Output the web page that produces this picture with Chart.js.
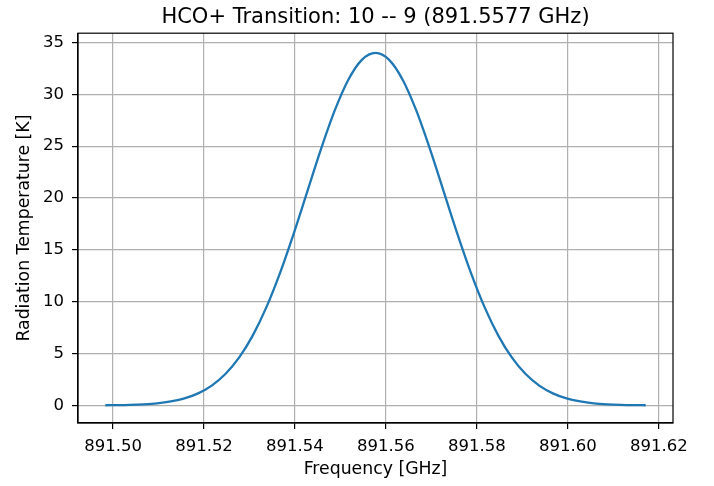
<!DOCTYPE html>
<html>
<head>
<meta charset="utf-8">
<script src="https://cdn.jsdelivr.net/npm/chart.js@4"></script>
<style>
  html, body { margin: 0; padding: 0; background: #fff; }
  #wrap { width: 714px; height: 486px; }
</style>
</head>
<body>
<div id="wrap"><canvas id="c" width="714" height="486"></canvas></div>
<script>
const frequency = [891.4983, 891.5007, 891.5037, 891.5067, 891.5097, 891.5127, 891.5157, 891.5187, 891.5217, 891.5247,
  891.5277, 891.5307, 891.5337, 891.5367, 891.5397, 891.5427, 891.5457, 891.5487, 891.5517, 891.5547,
  891.5577, 891.5607, 891.5637, 891.5667, 891.5697, 891.5727, 891.5757, 891.5787, 891.5817, 891.5847,
  891.5877, 891.5907, 891.5937, 891.5967, 891.5997, 891.6027, 891.6057, 891.6087, 891.6117, 891.6147, 891.6171];
const temperature = [0.013, 0.025, 0.052, 0.105, 0.20, 0.38, 0.67, 1.16, 1.91, 3.02,
  4.60, 6.73, 9.45, 12.76, 16.55, 20.62, 24.69, 28.40, 31.39, 33.33,
  34.00, 33.33, 31.39, 28.40, 24.69, 20.62, 16.55, 12.76, 9.45, 6.73,
  4.60, 3.02, 1.91, 1.16, 0.67, 0.38, 0.20, 0.105, 0.052, 0.025, 0.013];
const xTicks = [891.50, 891.52, 891.54, 891.56, 891.58, 891.60, 891.62];
const yTicks = [0, 5, 10, 15, 20, 25, 30, 35];
const titleText = 'HCO+ Transition: 10 -- 9 (891.5577 GHz)';
const xLabel = 'Frequency [GHz]';
const yLabel = 'Radiation Temperature [K]';

const FONT = 'DejaVu Sans';
const frame = {
  id: 'frame',
  afterDatasetsDraw(chart) {
    const a = chart.chartArea, ctx = chart.ctx;
    ctx.save();
    ctx.strokeStyle = '#000';
    ctx.lineWidth = 1.2;
    ctx.strokeRect(a.left, a.top, a.right - a.left, a.bottom - a.top);
    ctx.restore();
  }
};

new Chart(document.getElementById('c'), {
  type: 'line',
  data: {
    datasets: [{
      data: frequency.map((f, i) => ({x: f, y: temperature[i]})),
      borderColor: '#1f77b4',
      borderWidth: 2.3,
      pointRadius: 0,
      fill: false,
      cubicInterpolationMode: 'monotone'
    }]
  },
  options: {
    responsive: false,
    animation: false,
    layout: { padding: { left: 0, right: 41, top: 0, bottom: 0 } },
    plugins: {
      legend: { display: false },
      tooltip: { enabled: false },
      title: {
        display: true,
        text: titleText,
        fullSize: false,
        color: '#000',
        font: { family: FONT, size: 21, weight: 'normal' },
        padding: { top: 5, bottom: 3 }
      }
    },
    scales: {
      x: {
        type: 'linear',
        min: 891.4923,
        max: 891.6231,
        afterBuildTicks: s => { s.ticks = xTicks.map(v => ({value: v})); },
        afterFit: s => { s.height = 63; },
        ticks: {
          color: '#000',
          font: { family: FONT, size: 16.5 },
          padding: 8,
          maxRotation: 0,
          autoSkip: false,
          callback: v => Number(v).toFixed(2)
        },
        grid: { color: '#b0b0b0', lineWidth: 1.2, tickColor: '#000', tickLength: 6, drawTicks: true },
        border: { display: true, color: '#000', width: 1.2 },
        title: {
          display: true, text: xLabel, color: '#000',
          font: { family: FONT, size: 17.3 },
          padding: { top: 0, bottom: 6 }
        }
      },
      y: {
        type: 'linear',
        min: -1.7,
        max: 35.9,
        afterBuildTicks: s => { s.ticks = yTicks.map(v => ({value: v})); },
        afterFit: s => { s.width = 78; },
        ticks: {
          color: '#000',
          font: { family: FONT, size: 16.5 },
          padding: 8,
          autoSkip: false,
          callback: v => String(v)
        },
        grid: { color: '#b0b0b0', lineWidth: 1.2, tickColor: '#000', tickLength: 6, drawTicks: true },
        border: { display: true, color: '#000', width: 1.2 },
        title: {
          display: true, text: yLabel, color: '#000',
          font: { family: FONT, size: 17.3 },
          padding: { top: 14.5, bottom: 0 }
        }
      }
    }
  },
  plugins: [frame]
});
</script>
</body>
</html>
